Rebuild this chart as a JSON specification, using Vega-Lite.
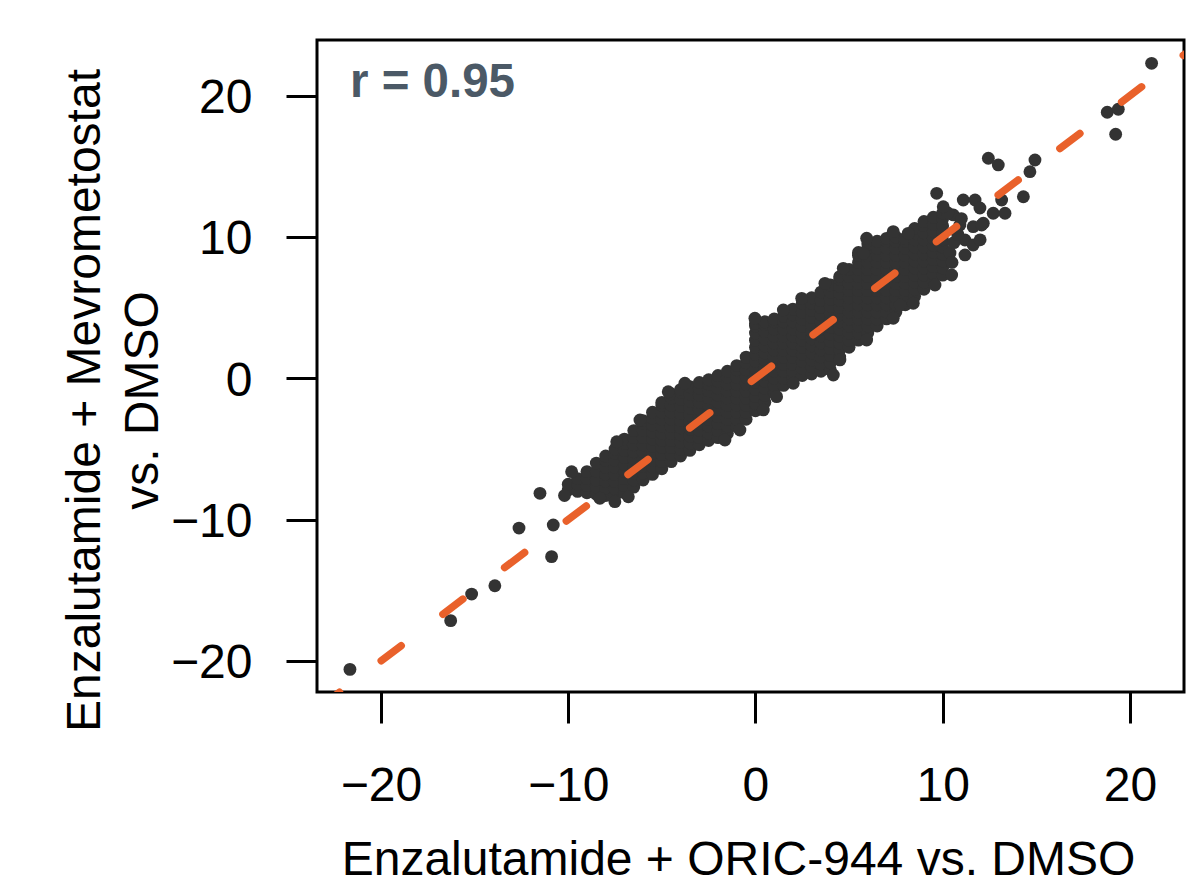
{
"$schema": "https://vega.github.io/schema/vega-lite/v6.json",
"width": 867, "height": 652,
"autosize": {"type": "none"},
"padding": {"left": 317, "top": 40, "right": 10, "bottom": 192},
"background": "white",
"config": {"view": {"stroke": "black", "strokeWidth": 3}, "font": "Liberation Sans"},
"encoding": {
  "x": {"field": "x", "type": "quantitative", "scale": {"domain": [-23.42, 22.89], "nice": false, "zero": false},
    "axis": {"values": [-20, -10, 0, 10, 20], "domain": false, "grid": false, "tickSize": 31, "tickWidth": 3, "tickColor": "black",
      "labelFont": "Liberation Sans", "labelFontSize": 48, "labelColor": "black", "labelPadding": 39, "labelFlush": false, "labelOverlap": false,
      "title": "Enzalutamide + ORIC-944 vs. DMSO", "titleFont": "Liberation Sans", "titleFontSize": 48, "titleFontWeight": "normal", "titleColor": "black",
      "titleBaseline": "alphabetic", "titleY": 182, "titleX": 421}},
  "y": {"field": "y", "type": "quantitative", "scale": {"domain": [-22.2, 23.94], "nice": false, "zero": false},
    "axis": {"values": [-20, -10, 0, 10, 20], "domain": false, "grid": false, "tickSize": 31, "tickWidth": 3, "tickColor": "black",
      "labelFont": "Liberation Sans", "labelFontSize": 48, "labelColor": "black", "labelPadding": 34, "labelFlush": false, "labelOverlap": false, "labelBaseline": "middle", "labelOffset": 3,
      "title": ["Enzalutamide + Mevrometostat", "vs. DMSO"], "titleFont": "Liberation Sans", "titleFontSize": 48, "titleFontWeight": "normal", "titleColor": "black",
      "titleLineHeight": 58, "titleBaseline": "top", "titleAngle": -90, "titleX": -256, "titleY": 360, "titleAlign": "center"}}
},
"layer": [
{"data": {"values": [
{"x":-10,"y":-7.9},{"x":-10,"y":-7.5},
{"x":-9.5,"y":-8.0},{"x":-9.5,"y":-7.5},{"x":-9.5,"y":-7.1},
{"x":-9,"y":-8.1},{"x":-9,"y":-7.6},{"x":-9,"y":-7.1},{"x":-9,"y":-6.6},
{"x":-8.5,"y":-8.2},{"x":-8.5,"y":-7.7},{"x":-8.5,"y":-7.2},{"x":-8.5,"y":-6.6},{"x":-8.5,"y":-6.0},
{"x":-8,"y":-8.3},{"x":-8,"y":-7.8},{"x":-8,"y":-7.3},{"x":-8,"y":-6.8},{"x":-8,"y":-6.3},{"x":-8,"y":-5.8},{"x":-8,"y":-5.5},
{"x":-7.5,"y":-8.3},{"x":-7.5,"y":-7.8},{"x":-7.5,"y":-7.3},{"x":-7.5,"y":-6.8},{"x":-7.5,"y":-6.3},{"x":-7.5,"y":-5.8},{"x":-7.5,"y":-5.3},{"x":-7.5,"y":-5.0},
{"x":-7,"y":-8.1},{"x":-7,"y":-7.6},{"x":-7,"y":-7.1},{"x":-7,"y":-6.6},{"x":-7,"y":-6.1},{"x":-7,"y":-5.6},{"x":-7,"y":-5.1},{"x":-7,"y":-4.6},{"x":-7,"y":-4.3},
{"x":-6.5,"y":-7.7},{"x":-6.5,"y":-7.2},{"x":-6.5,"y":-6.7},{"x":-6.5,"y":-6.2},{"x":-6.5,"y":-5.7},{"x":-6.5,"y":-5.2},{"x":-6.5,"y":-4.7},{"x":-6.5,"y":-4.2},{"x":-6.5,"y":-3.7},
{"x":-6,"y":-7.2},{"x":-6,"y":-6.7},{"x":-6,"y":-6.2},{"x":-6,"y":-5.7},{"x":-6,"y":-5.2},{"x":-6,"y":-4.7},{"x":-6,"y":-4.2},{"x":-6,"y":-3.7},{"x":-6,"y":-3.2},{"x":-6,"y":-3.0},
{"x":-5.5,"y":-6.8},{"x":-5.5,"y":-6.3},{"x":-5.5,"y":-5.8},{"x":-5.5,"y":-5.3},{"x":-5.5,"y":-4.8},{"x":-5.5,"y":-4.3},{"x":-5.5,"y":-3.8},{"x":-5.5,"y":-3.3},{"x":-5.5,"y":-2.8},{"x":-5.5,"y":-2.4},
{"x":-5,"y":-6.4},{"x":-5,"y":-5.9},{"x":-5,"y":-5.4},{"x":-5,"y":-4.9},{"x":-5,"y":-4.4},{"x":-5,"y":-3.9},{"x":-5,"y":-3.4},{"x":-5,"y":-2.9},{"x":-5,"y":-2.4},{"x":-5,"y":-1.9},{"x":-5,"y":-1.7},
{"x":-4.5,"y":-5.9},{"x":-4.5,"y":-5.4},{"x":-4.5,"y":-4.9},{"x":-4.5,"y":-4.4},{"x":-4.5,"y":-3.9},{"x":-4.5,"y":-3.4},{"x":-4.5,"y":-2.9},{"x":-4.5,"y":-2.4},{"x":-4.5,"y":-1.9},{"x":-4.5,"y":-1.4},{"x":-4.5,"y":-1.1},
{"x":-4,"y":-5.5},{"x":-4,"y":-5.0},{"x":-4,"y":-4.5},{"x":-4,"y":-4.0},{"x":-4,"y":-3.5},{"x":-4,"y":-3.0},{"x":-4,"y":-2.5},{"x":-4,"y":-2.0},{"x":-4,"y":-1.5},{"x":-4,"y":-1.0},{"x":-4,"y":-0.8},
{"x":-3.5,"y":-5.1},{"x":-3.5,"y":-4.6},{"x":-3.5,"y":-4.1},{"x":-3.5,"y":-3.6},{"x":-3.5,"y":-3.1},{"x":-3.5,"y":-2.6},{"x":-3.5,"y":-2.1},{"x":-3.5,"y":-1.6},{"x":-3.5,"y":-1.1},{"x":-3.5,"y":-0.6},
{"x":-3,"y":-4.7},{"x":-3,"y":-4.2},{"x":-3,"y":-3.7},{"x":-3,"y":-3.2},{"x":-3,"y":-2.7},{"x":-3,"y":-2.2},{"x":-3,"y":-1.7},{"x":-3,"y":-1.2},{"x":-3,"y":-0.7},{"x":-3,"y":-0.3},
{"x":-2.5,"y":-4.4},{"x":-2.5,"y":-3.9},{"x":-2.5,"y":-3.4},{"x":-2.5,"y":-2.9},{"x":-2.5,"y":-2.4},{"x":-2.5,"y":-1.9},{"x":-2.5,"y":-1.4},{"x":-2.5,"y":-0.9},{"x":-2.5,"y":-0.4},{"x":-2.5,"y":-0.1},
{"x":-2,"y":-4.2},{"x":-2,"y":-3.7},{"x":-2,"y":-3.2},{"x":-2,"y":-2.7},{"x":-2,"y":-2.2},{"x":-2,"y":-1.7},{"x":-2,"y":-1.2},{"x":-2,"y":-0.7},{"x":-2,"y":-0.2},{"x":-2,"y":0.2},
{"x":-1.5,"y":-3.9},{"x":-1.5,"y":-3.4},{"x":-1.5,"y":-2.9},{"x":-1.5,"y":-2.4},{"x":-1.5,"y":-1.9},{"x":-1.5,"y":-1.4},{"x":-1.5,"y":-0.9},{"x":-1.5,"y":-0.4},{"x":-1.5,"y":0.1},{"x":-1.5,"y":0.5},
{"x":-1,"y":-3.4},{"x":-1,"y":-2.9},{"x":-1,"y":-2.4},{"x":-1,"y":-1.9},{"x":-1,"y":-1.4},{"x":-1,"y":-0.9},{"x":-1,"y":-0.4},{"x":-1,"y":0.1},{"x":-1,"y":0.6},{"x":-1,"y":0.9},
{"x":-0.5,"y":-2.9},{"x":-0.5,"y":-2.4},{"x":-0.5,"y":-1.9},{"x":-0.5,"y":-1.4},{"x":-0.5,"y":-0.9},{"x":-0.5,"y":-0.4},{"x":-0.5,"y":0.1},{"x":-0.5,"y":0.6},{"x":-0.5,"y":1.1},{"x":-0.5,"y":1.5},
{"x":0,"y":-2.3},{"x":0,"y":-1.8},{"x":0,"y":-1.3},{"x":0,"y":-0.8},{"x":0,"y":-0.3},{"x":0,"y":0.2},{"x":0,"y":0.7},{"x":0,"y":1.2},{"x":0,"y":1.7},{"x":0,"y":2.2},{"x":0,"y":2.7},{"x":0,"y":3.2},{"x":0,"y":3.7},{"x":0,"y":3.9},
{"x":0.5,"y":-1.7},{"x":0.5,"y":-1.2},{"x":0.5,"y":-0.7},{"x":0.5,"y":-0.2},{"x":0.5,"y":0.3},{"x":0.5,"y":0.8},{"x":0.5,"y":1.3},{"x":0.5,"y":1.8},{"x":0.5,"y":2.3},{"x":0.5,"y":2.8},{"x":0.5,"y":3.3},{"x":0.5,"y":3.8},{"x":0.5,"y":4.0},
{"x":1,"y":-1.0},{"x":1,"y":-0.5},{"x":1,"y":0},{"x":1,"y":0.5},{"x":1,"y":1.0},{"x":1,"y":1.5},{"x":1,"y":2.0},{"x":1,"y":2.5},{"x":1,"y":3.0},{"x":1,"y":3.5},{"x":1,"y":4.0},{"x":1,"y":4.2},
{"x":1.5,"y":-0.5},{"x":1.5,"y":0},{"x":1.5,"y":0.5},{"x":1.5,"y":1.0},{"x":1.5,"y":1.5},{"x":1.5,"y":2.0},{"x":1.5,"y":2.5},{"x":1.5,"y":3.0},{"x":1.5,"y":3.5},{"x":1.5,"y":4.0},{"x":1.5,"y":4.4},
{"x":2,"y":0},{"x":2,"y":0.5},{"x":2,"y":1.0},{"x":2,"y":1.5},{"x":2,"y":2.0},{"x":2,"y":2.5},{"x":2,"y":3.0},{"x":2,"y":3.5},{"x":2,"y":4.0},{"x":2,"y":4.5},{"x":2,"y":4.9},
{"x":2.5,"y":0.2},{"x":2.5,"y":0.7},{"x":2.5,"y":1.2},{"x":2.5,"y":1.7},{"x":2.5,"y":2.2},{"x":2.5,"y":2.7},{"x":2.5,"y":3.2},{"x":2.5,"y":3.7},{"x":2.5,"y":4.2},{"x":2.5,"y":4.7},{"x":2.5,"y":5.3},
{"x":3,"y":0.3},{"x":3,"y":0.8},{"x":3,"y":1.3},{"x":3,"y":1.8},{"x":3,"y":2.3},{"x":3,"y":2.8},{"x":3,"y":3.3},{"x":3,"y":3.8},{"x":3,"y":4.3},{"x":3,"y":4.8},{"x":3,"y":5.3},{"x":3,"y":5.7},
{"x":3.5,"y":0.5},{"x":3.5,"y":1.0},{"x":3.5,"y":1.5},{"x":3.5,"y":2.0},{"x":3.5,"y":2.5},{"x":3.5,"y":3.0},{"x":3.5,"y":3.5},{"x":3.5,"y":4.0},{"x":3.5,"y":4.5},{"x":3.5,"y":5.0},{"x":3.5,"y":5.5},{"x":3.5,"y":6.1},
{"x":4,"y":0.6},{"x":4,"y":1.1},{"x":4,"y":1.6},{"x":4,"y":2.1},{"x":4,"y":2.6},{"x":4,"y":3.1},{"x":4,"y":3.6},{"x":4,"y":4.1},{"x":4,"y":4.6},{"x":4,"y":5.1},{"x":4,"y":5.6},{"x":4,"y":6.1},{"x":4,"y":6.6},
{"x":4.5,"y":1.5},{"x":4.5,"y":2.0},{"x":4.5,"y":2.5},{"x":4.5,"y":3.0},{"x":4.5,"y":3.5},{"x":4.5,"y":4.0},{"x":4.5,"y":4.5},{"x":4.5,"y":5.0},{"x":4.5,"y":5.5},{"x":4.5,"y":6.0},{"x":4.5,"y":6.5},{"x":4.5,"y":7.0},{"x":4.5,"y":7.2},
{"x":5,"y":2.2},{"x":5,"y":2.7},{"x":5,"y":3.2},{"x":5,"y":3.7},{"x":5,"y":4.2},{"x":5,"y":4.7},{"x":5,"y":5.2},{"x":5,"y":5.7},{"x":5,"y":6.2},{"x":5,"y":6.7},{"x":5,"y":7.2},{"x":5,"y":7.7},
{"x":5.5,"y":2.7},{"x":5.5,"y":3.2},{"x":5.5,"y":3.7},{"x":5.5,"y":4.2},{"x":5.5,"y":4.7},{"x":5.5,"y":5.2},{"x":5.5,"y":5.7},{"x":5.5,"y":6.2},{"x":5.5,"y":6.7},{"x":5.5,"y":7.2},{"x":5.5,"y":7.7},{"x":5.5,"y":8.2},{"x":5.5,"y":8.7},{"x":5.5,"y":8.9},
{"x":6,"y":3.2},{"x":6,"y":3.7},{"x":6,"y":4.2},{"x":6,"y":4.7},{"x":6,"y":5.2},{"x":6,"y":5.7},{"x":6,"y":6.2},{"x":6,"y":6.7},{"x":6,"y":7.2},{"x":6,"y":7.7},{"x":6,"y":8.2},{"x":6,"y":8.7},{"x":6,"y":9.2},{"x":6,"y":9.5},
{"x":6.5,"y":3.7},{"x":6.5,"y":4.2},{"x":6.5,"y":4.7},{"x":6.5,"y":5.2},{"x":6.5,"y":5.7},{"x":6.5,"y":6.2},{"x":6.5,"y":6.7},{"x":6.5,"y":7.2},{"x":6.5,"y":7.7},{"x":6.5,"y":8.2},{"x":6.5,"y":8.7},{"x":6.5,"y":9.2},{"x":6.5,"y":9.7},
{"x":7,"y":4.2},{"x":7,"y":4.7},{"x":7,"y":5.2},{"x":7,"y":5.7},{"x":7,"y":6.2},{"x":7,"y":6.7},{"x":7,"y":7.2},{"x":7,"y":7.7},{"x":7,"y":8.2},{"x":7,"y":8.7},{"x":7,"y":9.2},{"x":7,"y":9.7},{"x":7,"y":9.9},
{"x":7.5,"y":4.7},{"x":7.5,"y":5.2},{"x":7.5,"y":5.7},{"x":7.5,"y":6.2},{"x":7.5,"y":6.7},{"x":7.5,"y":7.2},{"x":7.5,"y":7.7},{"x":7.5,"y":8.2},{"x":7.5,"y":8.7},{"x":7.5,"y":9.2},{"x":7.5,"y":9.7},{"x":7.5,"y":10.0},
{"x":8,"y":5.2},{"x":8,"y":5.7},{"x":8,"y":6.2},{"x":8,"y":6.7},{"x":8,"y":7.2},{"x":8,"y":7.7},{"x":8,"y":8.2},{"x":8,"y":8.7},{"x":8,"y":9.2},{"x":8,"y":9.7},{"x":8,"y":9.9},
{"x":8.5,"y":5.8},{"x":8.5,"y":6.3},{"x":8.5,"y":6.8},{"x":8.5,"y":7.3},{"x":8.5,"y":7.8},{"x":8.5,"y":8.3},{"x":8.5,"y":8.8},{"x":8.5,"y":9.3},{"x":8.5,"y":9.8},{"x":8.5,"y":10.3},{"x":8.5,"y":10.6},
{"x":9,"y":6.3},{"x":9,"y":6.8},{"x":9,"y":7.3},{"x":9,"y":7.8},{"x":9,"y":8.3},{"x":9,"y":8.8},{"x":9,"y":9.3},{"x":9,"y":9.8},{"x":9,"y":10.3},{"x":9,"y":10.8},{"x":9,"y":11.1},
{"x":9.5,"y":6.9},{"x":9.5,"y":7.4},{"x":9.5,"y":7.9},{"x":9.5,"y":8.4},{"x":9.5,"y":8.9},{"x":9.5,"y":9.4},{"x":9.5,"y":9.9},{"x":9.5,"y":10.4},{"x":9.5,"y":10.9},{"x":9.5,"y":11.4},
{"x":10,"y":7.3},{"x":10,"y":7.8},{"x":10,"y":8.3},{"x":10,"y":8.8},{"x":10,"y":9.3},{"x":10,"y":9.8},{"x":10,"y":10.3},{"x":10,"y":10.8},{"x":10,"y":11.3},{"x":10,"y":11.7},
{"x":10.57,"y":11.56},{"x":10.92,"y":10.85},{"x":10.28,"y":11.7},{"x":10.03,"y":12.14},{"x":9.68,"y":13.09},{"x":11.1,"y":12.62},{"x":11.73,"y":12.62},{"x":11.99,"y":12.05},{"x":12.7,"y":11.68},{"x":13.33,"y":11.68},{"x":13.15,"y":12.62},{"x":12.17,"y":10.97},{"x":11.63,"y":10.73},{"x":11.19,"y":9.79},{"x":11.63,"y":9.43},{"x":11.19,"y":8.73},{"x":10.39,"y":8.87},{"x":10.48,"y":7.31},{"x":10.6,"y":9.6},{"x":10.8,"y":10.2},{"x":10.5,"y":8.2},{"x":11.0,"y":11.3},{"x":12.0,"y":9.8},{"x":12.08,"y":10.85},
{"x":12.44,"y":15.57},{"x":12.97,"y":15.1},{"x":14.93,"y":15.45},{"x":14.66,"y":14.62},{"x":14.31,"y":12.85},{"x":21.16,"y":22.29},{"x":18.79,"y":18.83},{"x":19.38,"y":19.04},{"x":19.24,"y":17.27},
{"x":9.59,"y":6.6},{"x":8.43,"y":5.31},{"x":7.36,"y":4.25},{"x":7.72,"y":5.19},
{"x":-21.66,"y":-20.6},{"x":-16.28,"y":-17.15},{"x":-15.16,"y":-15.27},{"x":-13.92,"y":-14.68},{"x":-12.63,"y":-10.6},{"x":-10.89,"y":-12.62},{"x":-10.8,"y":-10.38},{"x":-11.51,"y":-8.14},{"x":-9.82,"y":-6.61},{"x":-10.2,"y":-8.3},
{"x":-7.51,"y":-8.73},{"x":-6.79,"y":-8.38},{"x":-8.31,"y":-8.49},{"x":-1.63,"y":-4.37},{"x":-0.83,"y":-3.66},{"x":4.16,"y":0.23},{"x":4.51,"y":1.3},{"x":5.94,"y":2.71},{"x":2.02,"y":-0.35},{"x":1.13,"y":-1.3},{"x":0.42,"y":-2.24},
{"x":-3.77,"y":-0.35},{"x":-4.66,"y":-0.95},{"x":-0.03,"y":4.25},{"x":1.49,"y":4.83},{"x":2.47,"y":5.66},{"x":3.71,"y":6.72},{"x":4.69,"y":7.78},{"x":5.76,"y":8.85},{"x":5.94,"y":9.91},{"x":7.36,"y":10.38},{"x":8.16,"y":10.26},{"x":-6.17,"y":-2.95},{"x":-7.41,"y":-4.49}
]},
 "mark": {"type": "point", "filled": true, "shape": "circle", "size": 165, "color": "#333333", "opacity": 1, "strokeWidth": 0}},
{"data": {"values": [{"x": -24, "y": -24}, {"x": 24, "y": 24}]},
 "mark": {"type": "line", "clip": true, "color": "#E9612B", "strokeWidth": 7.5, "strokeDash": [25, 52.3], "strokeDashOffset": 60.5, "strokeCap": "round"}},
{"data": {"values": [{"x": -21.66, "y": 19.93, "label": "r = 0.95"}]},
 "mark": {"type": "text", "align": "left", "baseline": "alphabetic", "font": "Liberation Sans", "fontSize": 47.5, "fontWeight": "bold", "color": "#4B5966"},
 "encoding": {"text": {"field": "label"}}}
]
}
